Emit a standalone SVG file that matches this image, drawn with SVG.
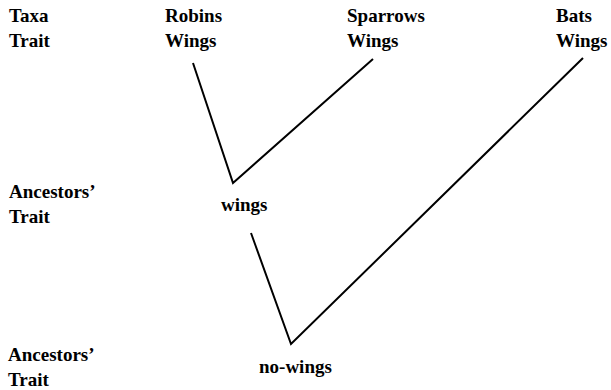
<svg xmlns="http://www.w3.org/2000/svg" width="611" height="390" viewBox="0 0 611 390">
<style>
text{font-family:'Liberation Serif','Times New Roman',Times,'DejaVu Serif',serif;font-size:19px;font-weight:bold;fill:#000}
.c{stroke:#000;stroke-width:2;fill:none;stroke-linecap:butt;stroke-linejoin:miter}
</style>
<rect width="611" height="390" fill="#fff"/>
<g id="row-labels">
<text x="9" y="22">Taxa</text>
<text x="9" y="47">Trait</text>
<text x="9" y="198">Ancestors’</text>
<text x="9" y="223">Trait</text>
<text x="8" y="361">Ancestors’</text>
<text x="8" y="386">Trait</text>
</g>
<g id="robins"><text x="165" y="22">Robins</text><text x="165" y="47">Wings</text></g>
<g id="sparrows"><text x="347" y="22">Sparrows</text><text x="347" y="47">Wings</text></g>
<g id="bats"><text x="556" y="22">Bats</text><text x="556" y="47">Wings</text></g>
<g id="ancestor1"><text x="221" y="211">wings</text></g>
<g id="ancestor2"><text x="259" y="373">no-wings</text></g>
<g id="connectors">
<polyline class="c" points="193,63 233,183 373,59"/>
<polyline class="c" points="251,233 291,344 583,58"/>
</g>
</svg>
